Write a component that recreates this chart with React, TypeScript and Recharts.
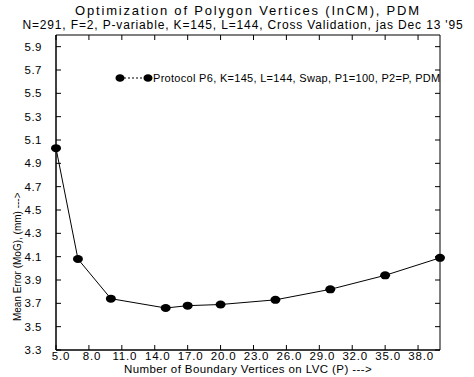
import React from 'react';
import { LineChart, Line, XAxis, YAxis, ReferenceArea, Legend } from 'recharts';

const boundaryVertices = [5, 7, 10, 15, 17, 20, 25, 30, 35, 40];
const meanError = [5.03, 4.08, 3.74, 3.66, 3.68, 3.69, 3.73, 3.82, 3.94, 4.09];
const xTicks = [5, 8, 11, 14, 17, 20, 23, 26, 29, 32, 35, 38];
const yTicks = [3.3, 3.5, 3.7, 3.9, 4.1, 4.3, 4.5, 4.7, 4.9, 5.1, 5.3, 5.5, 5.7, 5.9];
const seriesName = 'Protocol P6, K=145, L=144, Swap, P1=100, P2=P, PDM';
const title = 'Optimization of Polygon Vertices (InCM),  PDM';
const subtitle = "N=291, F=2, P-variable, K=145, L=144, Cross Validation, jas Dec 13 '95";

const data = boundaryVertices.map((p, i) => ({ p, err: meanError[i] }));

const W = 474;
const H = 377;
const LEFT = 56;
const RIGHT = 440;
const TOP = 35;
const BOTTOM = 350;
const FONT = '"Liberation Sans", Arial, sans-serif';

const YTick = (props: any) => {
  const { x, y, payload } = props;
  return (
    <g>
      <line x1={x} x2={x + 5} y1={y} y2={y} stroke="#000" strokeWidth={1} />
      <line x1={RIGHT} x2={RIGHT - 5} y1={y} y2={y} stroke="#000" strokeWidth={1} />
      <text x={x - 14} y={y} dy={4} textAnchor="end" fontSize={11.5} letterSpacing={0.5} fontFamily={FONT} fill="#000">
        {Number(payload.value).toFixed(1)}
      </text>
    </g>
  );
};

const XTick = (props: any) => {
  const { x, y, payload, index } = props;
  const shift = index === 0 ? 5 : 3;
  return (
    <g>
      <line x1={x} x2={x} y1={y} y2={y - 5} stroke="#000" strokeWidth={1} />
      <line x1={x} x2={x} y1={TOP} y2={TOP + 5} stroke="#000" strokeWidth={1} />
      <text x={x + shift} y={y} dy={10} textAnchor="middle" fontSize={11.5} letterSpacing={0.8} fontFamily={FONT} fill="#000">
        {Number(payload.value).toFixed(1)}
      </text>
    </g>
  );
};

const Dot = (props: any) => {
  const { cx, cy, index } = props;
  if (cx == null || cy == null) return null;
  return <ellipse key={`d${index}`} cx={cx} cy={cy} rx={5} ry={4} fill="#000" />;
};

const LegendContent = () => (
  <div style={{ display: 'flex', alignItems: 'center', fontFamily: FONT, fontSize: 11, letterSpacing: 0.3, color: '#000', whiteSpace: 'nowrap' }}>
    <svg width={38} height={10} style={{ display: 'block' }}>
      <line x1={5} x2={33} y1={5} y2={5} stroke="#000" strokeWidth={1} strokeDasharray="2 2" />
      <ellipse cx={5} cy={5} rx={4.5} ry={3.8} fill="#000" />
      <ellipse cx={33} cy={5} rx={4.5} ry={3.8} fill="#000" />
    </svg>
    <span style={{ marginLeft: 0 }}>{seriesName}</span>
  </div>
);

export default function App() {
  return (
    <div style={{ position: 'absolute', left: 0, top: 0, width: W, height: H, background: '#fff' }}>
      <svg width={W} height={H} style={{ position: 'absolute', left: 0, top: 0, pointerEvents: 'none' }}>
        <text x={248} y={15} textAnchor="middle" fontSize={13} letterSpacing={1.8} fontFamily={FONT} fill="#000">{title}</text>
        <text x={243} y={29} textAnchor="middle" fontSize={12} letterSpacing={0.85} fontFamily={FONT} fill="#000">{subtitle}</text>
      </svg>
      <div style={{ position: 'absolute', left: 0, top: 0 }}>
        <LineChart
          width={W}
          height={H}
          data={data}
          margin={{ top: TOP, left: LEFT - 1, right: W - RIGHT, bottom: H - BOTTOM - 1 }}
        >
          <XAxis
            dataKey="p"
            type="number"
            domain={[5, 40]}
            ticks={xTicks}
            height={1}
            tickSize={0}
            tickMargin={0}
            tick={<XTick />}
            axisLine={{ stroke: '#000' }}
            tickLine={false}
            interval={0}
            label={{ value: 'Number of Boundary Vertices on LVC (P) --->', position: 'bottom', offset: 0, dy: 14, fontSize: 11.5, letterSpacing: 0.4, fontFamily: FONT, fill: '#000' }}
          />
          <YAxis
            type="number"
            domain={[3.3, 6.0]}
            ticks={yTicks}
            width={1}
            tickSize={0}
            tickMargin={0}
            tick={<YTick />}
            axisLine={{ stroke: '#000' }}
            tickLine={false}
            interval={0}
            allowDataOverflow
            label={{ value: 'Mean Error (MoG), (mm) --->', angle: -90, position: 'left', offset: 38, fontSize: 10, fontFamily: FONT, fill: '#000' }}
          />
          <ReferenceArea x1={5} x2={40} y1={3.3} y2={6.0} fill="none" stroke="#000" strokeWidth={1} ifOverflow="extendDomain" />
          <Legend
            layout="horizontal"
            verticalAlign="middle"
            align="center"
            content={<LegendContent />}
            wrapperStyle={{ position: 'absolute', left: 115, top: 72, width: 'auto' }}
          />
          <Line
            type="linear"
            dataKey="err"
            name={seriesName}
            stroke="#000"
            strokeWidth={1}
            dot={<Dot />}
            activeDot={false}
            isAnimationActive={false}
          />
        </LineChart>
      </div>
    </div>
  );
}
